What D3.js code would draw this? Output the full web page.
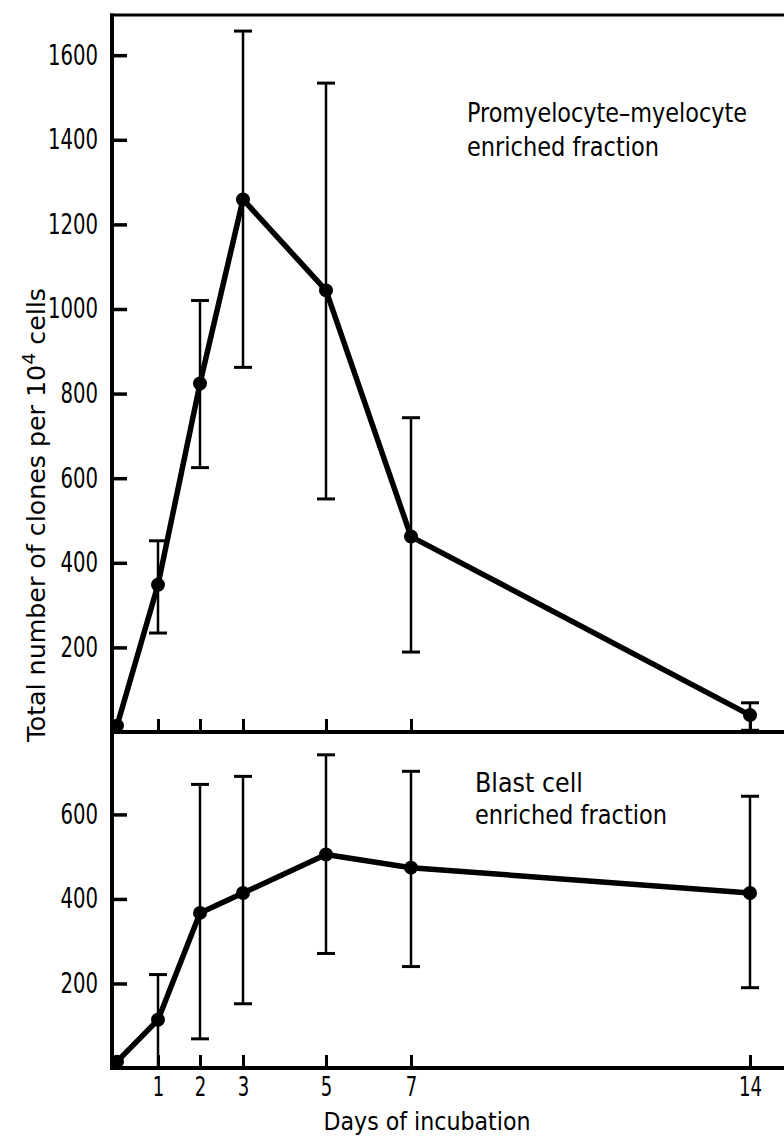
<!DOCTYPE html>
<html>
<head>
<meta charset="utf-8">
<script src="https://cdn.jsdelivr.net/npm/d3@7/dist/d3.min.js"></script>
<style>
  body { margin: 0; background: #fff; }
  svg { display: block; }
  text { font-family: "DejaVu Sans Condensed", "DejaVu Sans", sans-serif; fill: #000; }
</style>
</head>
<body>
<div id="chart"></div>
<script>
// Days of incubation and the two fractions (mean, error bar low/high)
const days = [0, 1, 2, 3, 5, 7, 14];
const tickDays = [1, 2, 3, 5, 7, 14];

const promyMean  = [15, 348, 824, 1259, 1044, 462, 40];
const promyLow   = [null, 234, 625, 862, 551, 189, 4];
const promyHigh  = [null, 452, 1020, 1657, 1534, 743, 69];

const blastMean  = [15, 114, 367, 414, 505, 474, 414];
const blastLow   = [null, 0, 69, 152, 271, 240, 190];
const blastHigh  = [null, 221, 671, 690, 741, 702, 643];

const topTicks = [200, 400, 600, 800, 1000, 1200, 1400, 1600];
const bottomTicks = [200, 400, 600];

document.addEventListener('DOMContentLoaded', function() {
    const width = 784, height = 1140;
    const left = 112, right = 790;
    const topY = 15, midY = 732, bottomY = 1068;

    const svg = d3.select("#chart")
        .append("svg")
        .attr("width", width)
        .attr("height", height);

    svg.append("rect")
        .attr("width", width)
        .attr("height", height)
        .attr("fill", "#fff");

    // the day axis was drawn by hand, so spacing is piecewise
    const x = d3.scaleLinear()
        .domain([0, 1, 2, 3, 5, 7, 14])
        .range([117, 158, 200, 243, 326, 411, 750]);

    const yTop = d3.scaleLinear().domain([0, 1695]).range([midY, topY]);
    const yBot = d3.scaleLinear().domain([0, 795]).range([bottomY, midY]);

    // squeeze text into a narrow lettering style
    function narrow(sel, perChar) {
        sel.attr("textLength", function() { return this.textContent.length * perChar; })
            .attr("lengthAdjust", "spacingAndGlyphs");
    }

    function panel(y, ticks, mean, low, high, showDayLabels) {
        const g = svg.append("g");

        // y axis, ticks pointing into the plot
        const ya = g.append("g")
            .attr("transform", `translate(${left},0)`)
            .call(d3.axisLeft(y).tickValues(ticks).tickSizeInner(-15).tickSizeOuter(0)
                .tickPadding(14).tickFormat(d3.format("d")));
        ya.select(".domain").remove();
        ya.selectAll(".tick line").attr("stroke", "#000").attr("stroke-width", 3.5);
        ya.selectAll(".tick text").style("font-size", "28px").call(narrow, 12.5);

        // day axis along the baseline
        const xa = g.append("g")
            .attr("transform", `translate(0,${y(0)})`)
            .call(d3.axisBottom(x).tickValues(tickDays).tickSizeInner(-13).tickSizeOuter(0).tickPadding(10)
                .tickFormat(showDayLabels ? d3.format("d") : () => ""));
        xa.select(".domain").remove();
        xa.selectAll(".tick line").attr("stroke", "#000").attr("stroke-width", 3);
        if (showDayLabels) {
            xa.selectAll(".tick text").style("font-size", "26px").call(narrow, 11.5);
        }

        const pts = days.map((d, i) => ({day: d, mean: mean[i], low: low[i], high: high[i]}));
        const withErr = pts.filter(p => p.low !== null);

        // error bars
        g.selectAll(".err")
            .data(withErr)
            .enter()
            .append("line")
            .attr("x1", d => x(d.day))
            .attr("x2", d => x(d.day))
            .attr("y1", d => y(d.low))
            .attr("y2", d => y(d.high))
            .attr("stroke", "#000")
            .attr("stroke-width", 2.5);

        ["low", "high"].forEach(k => {
            g.selectAll(".cap-" + k)
                .data(withErr)
                .enter()
                .append("line")
                .attr("x1", d => x(d.day) - 9)
                .attr("x2", d => x(d.day) + 9)
                .attr("y1", d => y(d[k]))
                .attr("y2", d => y(d[k]))
                .attr("stroke", "#000")
                .attr("stroke-width", 3);
        });

        // mean line and points
        g.append("path")
            .datum(pts)
            .attr("fill", "none")
            .attr("stroke", "#000")
            .attr("stroke-width", 5.5)
            .attr("stroke-linejoin", "round")
            .attr("d", d3.line().x(d => x(d.day)).y(d => y(d.mean)));

        g.selectAll(".dot")
            .data(pts)
            .enter()
            .append("circle")
            .attr("cx", d => x(d.day))
            .attr("cy", d => y(d.mean))
            .attr("r", 7)
            .attr("fill", "#000");
    }

    panel(yTop, topTicks, promyMean, promyLow, promyHigh, false);
    panel(yBot, bottomTicks, blastMean, blastLow, blastHigh, true);

    // frame lines
    const frame = svg.append("g").attr("stroke", "#000").attr("fill", "none");
    frame.append("line").attr("x1", left).attr("x2", left).attr("y1", topY - 1.5).attr("y2", bottomY + 2).attr("stroke-width", 4);
    frame.append("line").attr("x1", left - 2).attr("x2", right).attr("y1", topY).attr("y2", topY).attr("stroke-width", 3);
    frame.append("line").attr("x1", left - 2).attr("x2", right).attr("y1", midY).attr("y2", midY).attr("stroke-width", 4);
    frame.append("line").attr("x1", left - 2).attr("x2", right).attr("y1", bottomY).attr("y2", bottomY).attr("stroke-width", 4);

    // panel captions
    function caption(x0, y0, lines, widths, gap) {
        lines.forEach((t, i) => {
            svg.append("text")
                .attr("x", x0)
                .attr("y", y0 + i * gap)
                .style("font-size", "27px")
                .attr("textLength", widths[i])
                .attr("lengthAdjust", "spacingAndGlyphs")
                .text(t);
        });
    }
    caption(467, 122, ["Promyelocyte\u2013myelocyte", "enriched fraction"], [280, 192], 34);
    caption(475, 792, ["Blast cell", "enriched fraction"], [108, 192], 32);

    // axis titles
    svg.append("text")
        .attr("x", 427)
        .attr("y", 1130)
        .attr("text-anchor", "middle")
        .style("font-size", "24px")
        .attr("textLength", 207)
        .attr("lengthAdjust", "spacingAndGlyphs")
        .text("Days of incubation");

    const yLabel = svg.append("text")
        .attr("transform", "translate(45,515) rotate(-90)")
        .attr("text-anchor", "middle")
        .style("font-size", "24px")
        .attr("textLength", 454)
        .attr("lengthAdjust", "spacingAndGlyphs");
    yLabel.append("tspan").text("Total number of clones per 10");
    yLabel.append("tspan").attr("dy", -10).style("font-size", "18px").text("4");
    yLabel.append("tspan").attr("dy", 10).text(" cells");
});
</script>
</body>
</html>
